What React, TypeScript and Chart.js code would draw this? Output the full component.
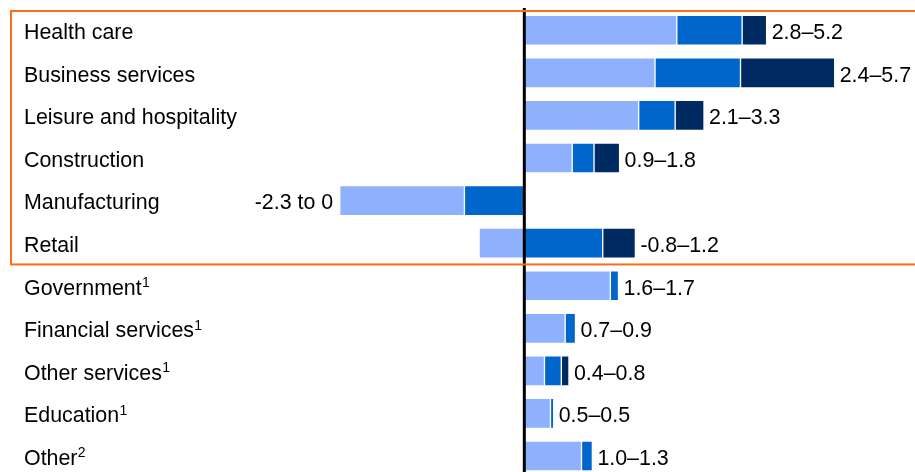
import React, { useEffect, useRef } from "react";
import { Chart, registerables } from "chart.js";

Chart.register(...registerables);

// Sectors, top to bottom (trailing ¹/² are footnote markers)
const categories = [
  "Health care",
  "Business services",
  "Leisure and hospitality",
  "Construction",
  "Manufacturing",
  "Retail",
  "Government¹",
  "Financial services¹",
  "Other services¹",
  "Education¹",
  "Other²",
];

// Bar segments as [start, end] in millions of jobs
const lightSegments: [number, number][] = [
  [0, 2.8], [0, 2.4], [0, 2.1], [0, 0.88], [-3.39, -1.1], [-0.83, 0],
  [0, 1.58], [0, 0.75], [0, 0.37], [0, 0.48], [0, 1.05],
];
const midSegments: [number, number][] = [
  [2.8, 4.0], [2.4, 3.97], [2.1, 2.77], [0.88, 1.28], [-1.1, 0], [0, 1.44],
  [1.58, 1.73], [0.75, 0.94], [0.37, 0.68], [0.48, 0.54], [1.05, 1.25],
];
const darkSegments: ([number, number] | null)[] = [
  [4.0, 4.45], [3.97, 5.7], [2.77, 3.3], [1.28, 1.75], null, [1.44, 2.04],
  null, null, [0.68, 0.82], null, null,
];

// Range shown beside each bar
const lowValues = [2.8, 2.4, 2.1, 0.9, -2.3, -0.8, 1.6, 0.7, 0.4, 0.5, 1.0];
const highValues = [5.2, 5.7, 3.3, 1.8, 0, 1.2, 1.7, 0.9, 0.8, 0.5, 1.3];

// Number of leading rows enclosed by the highlight frame
const framedRows = 6;

const FONT = "'Liberation Sans', Arial, Helvetica, sans-serif";
const FONT_SIZE = 21.4;
const SUP_SIZE = 14;
const BASELINE_SHIFT = 8.8;
const LIGHT = "#8fb0fd";
const MID = "#0066cc";
const DARK = "#002b62";
const FRAME = "#ff6c17";

const SUPERSCRIPTS: Record<string, string> = { "¹": "1", "²": "2" };

const formatRange = (lo: number, hi: number) =>
  hi <= 0 ? `${lo.toFixed(1)} to ${hi}` : `${lo.toFixed(1)}–${hi.toFixed(1)}`;

const overlayPlugin = {
  id: "overlay",
  afterDatasetsDraw(chart: any) {
    const { ctx, scales } = chart;
    const xs = scales.x;
    const ys = scales.y;
    ctx.save();
    ctx.fillStyle = "#000";
    ctx.textBaseline = "alphabetic";

    categories.forEach((name, i) => {
      const baseline = ys.getPixelForValue(i) + BASELINE_SHIFT;

      // category name, with its footnote marker raised
      const last = name.slice(-1);
      const sup = SUPERSCRIPTS[last];
      const main = sup ? name.slice(0, -1) : name;
      ctx.textAlign = "left";
      ctx.font = `${FONT_SIZE}px ${FONT}`;
      const labelX = ys.left;
      ctx.fillText(main, labelX, baseline);
      if (sup) {
        const w = ctx.measureText(main).width;
        ctx.font = `${SUP_SIZE}px ${FONT}`;
        ctx.fillText(sup, labelX + w + 0.3, baseline - 7.5);
      }

      // range label beside the bar
      ctx.font = `${FONT_SIZE}px ${FONT}`;
      const segs = [lightSegments[i], midSegments[i], darkSegments[i]].filter(
        (s): s is [number, number] => !!s
      );
      const maxEnd = Math.max(...segs.map((s) => Math.max(s[0], s[1])));
      const minStart = Math.min(...segs.map((s) => Math.min(s[0], s[1])));
      const text = formatRange(lowValues[i], highValues[i]);
      if (maxEnd > 0) {
        ctx.textAlign = "left";
        ctx.fillText(text, xs.getPixelForValue(maxEnd) + 5, baseline);
      } else {
        ctx.textAlign = "right";
        ctx.fillText(text, xs.getPixelForValue(minStart) - 6.5, baseline);
      }
    });

    // zero line
    const x0 = xs.getPixelForValue(0);
    ctx.strokeStyle = "#000";
    ctx.lineWidth = 3;
    ctx.beginPath();
    ctx.moveTo(x0, 8);
    ctx.lineTo(x0, chart.height);
    ctx.stroke();

    // highlight frame around the leading rows
    const top = ys.getPixelForValue(-0.5) + 2;
    const bottom = ys.getPixelForValue(framedRows - 0.5);
    ctx.strokeStyle = FRAME;
    ctx.lineWidth = 2;
    ctx.strokeRect(11, top, chart.width, bottom - top);
    ctx.restore();
  },
};

export default function App() {
  const ref = useRef<HTMLCanvasElement>(null);

  useEffect(() => {
    const common = {
      borderColor: "rgba(255,255,255,0.55)",
      borderWidth: 1,
      borderSkipped: false as const,
      barThickness: 30,
      grouped: false,
    };
    const chart = new Chart(ref.current!, {
      type: "bar",
      data: {
        labels: categories,
        datasets: [
          { ...common, label: "Low", data: lightSegments, backgroundColor: LIGHT },
          { ...common, label: "Mid", data: midSegments, backgroundColor: MID },
          { ...common, label: "High", data: darkSegments as any, backgroundColor: DARK },
        ],
      },
      options: {
        indexAxis: "y",
        animation: false,
        responsive: false,
        devicePixelRatio: 1,
        layout: { padding: { left: 24, right: 9.5, top: 9, bottom: 2.7 } },
        plugins: { legend: { display: false }, tooltip: { enabled: false } },
        scales: {
          x: { type: "linear", min: -4, max: 7, display: false },
          y: {
            type: "category",
            offset: true,
            grid: { display: false },
            border: { display: false },
            ticks: { display: false },
            afterFit: (s: any) => {
              s.width = 282.5;
              s.paddingTop = 0;
              s.paddingBottom = 0;
            },
          },
        },
      },
      plugins: [overlayPlugin],
    });
    return () => chart.destroy();
  }, []);

  return (
    <div
      style={{
        position: "fixed",
        left: 0,
        top: 0,
        width: 915,
        height: 472,
        overflow: "hidden",
        background: "#fff",
      }}
    >
      <canvas
        ref={ref}
        width={915}
        height={480}
        style={{ display: "block", width: 915, height: 480 }}
      />
    </div>
  );
}
